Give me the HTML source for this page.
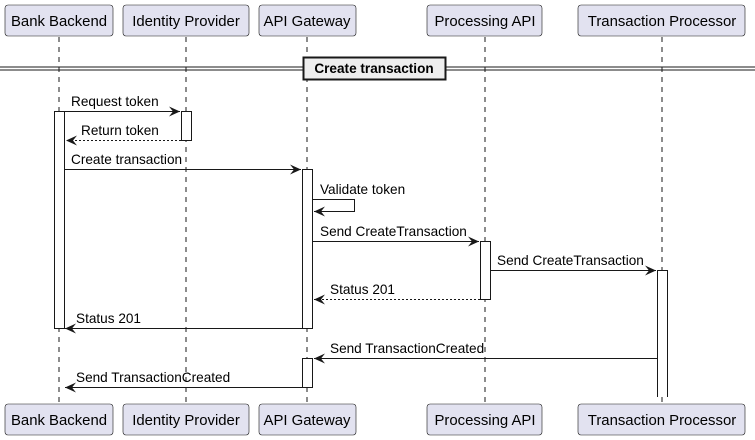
<!DOCTYPE html>
<html><head><meta charset="utf-8"><style>
html,body{margin:0;padding:0;background:#fff;}
svg{display:block;}
text{font-family:"Liberation Sans","DejaVu Sans",sans-serif;font-size:13.6px;fill:#000;}
text.p{font-size:14.9px;}
</style></head><body>
<svg width="755" height="440" viewBox="0 0 755 440" xmlns="http://www.w3.org/2000/svg">
<defs>
<marker id="ah" markerWidth="12" markerHeight="10" refX="11" refY="5" orient="auto" markerUnits="userSpaceOnUse">
<path d="M0,0 L11,5 L0,10 L4,5 Z" fill="#181818"/>
</marker>
</defs>
<g stroke="#181818" stroke-width="1" stroke-dasharray="5,5">
<line x1="59" y1="37" x2="59" y2="404"/>
<line x1="186" y1="37" x2="186" y2="404"/>
<line x1="307" y1="37" x2="307" y2="404"/>
<line x1="485" y1="37" x2="485" y2="404"/>
<line x1="662" y1="37" x2="662" y2="404"/>
</g>
<g fill="#E2E2F0" stroke="#181818" stroke-width="0.6">
<rect x="5" y="5" width="108" height="31" rx="3"/>
<rect x="123" y="5" width="126" height="31" rx="3"/>
<rect x="259" y="5" width="97" height="31" rx="3"/>
<rect x="427" y="5" width="115" height="31" rx="3"/>
<rect x="578" y="5" width="167" height="31" rx="3"/>
<rect x="5" y="404" width="108" height="31" rx="3"/>
<rect x="123" y="404" width="126" height="31" rx="3"/>
<rect x="259" y="404" width="97" height="31" rx="3"/>
<rect x="427" y="404" width="115" height="31" rx="3"/>
<rect x="578" y="404" width="167" height="31" rx="3"/>
</g>
<g text-anchor="middle">
<text class="p" x="59" y="26">Bank Backend</text>
<text class="p" x="186" y="26">Identity Provider</text>
<text class="p" x="307" y="26">API Gateway</text>
<text class="p" x="485" y="26">Processing API</text>
<text class="p" x="662" y="26">Transaction Processor</text>
<text class="p" x="59" y="425">Bank Backend</text>
<text class="p" x="186" y="425">Identity Provider</text>
<text class="p" x="307" y="425">API Gateway</text>
<text class="p" x="485" y="425">Processing API</text>
<text class="p" x="662" y="425">Transaction Processor</text>
</g>
<line x1="0" y1="67" x2="755" y2="67" stroke="#181818"/>
<line x1="0" y1="70" x2="755" y2="70" stroke="#181818"/>
<rect x="303.5" y="57.5" width="142" height="22" fill="#EEEEEE" stroke="#181818" stroke-width="2"/>
<text x="374" y="73" text-anchor="middle" style="font-weight:bold">Create transaction</text>
<g fill="#fff" stroke="#181818" stroke-width="1">
<rect x="54.5" y="111.5" width="10" height="217"/>
<rect x="181.5" y="111.5" width="10" height="29"/>
<rect x="302.5" y="169.5" width="10" height="159"/>
<rect x="480.5" y="241.5" width="10" height="58"/>
<rect x="302.5" y="358.5" width="10" height="29"/>
</g>
<rect x="657" y="270" width="11" height="127" fill="#fff"/>
<path d="M657.5,397 V270.5 H667.5 V397" fill="none" stroke="#181818"/>
<g stroke="#181818" stroke-width="1" fill="none" marker-end="url(#ah)">
<line x1="65" y1="111.5" x2="180" y2="111.5"/>
<line x1="181" y1="140.5" x2="66" y2="140.5" stroke-dasharray="2,2"/>
<line x1="65" y1="169.5" x2="301" y2="169.5"/>
<path d="M313,199.5 H354.5 V211.5 H314"/>
<line x1="313" y1="241.5" x2="479" y2="241.5"/>
<line x1="491" y1="270.5" x2="656" y2="270.5"/>
<line x1="480" y1="299.5" x2="314" y2="299.5" stroke-dasharray="2,2"/>
<line x1="302" y1="328.5" x2="65" y2="328.5"/>
<line x1="657" y1="358.5" x2="314" y2="358.5"/>
<line x1="302" y1="387.5" x2="65" y2="387.5"/>
</g>
<g>
<text x="71" y="106">Request token</text>
<text x="81" y="135">Return token</text>
<text x="71" y="164">Create transaction</text>
<text x="320" y="194">Validate token</text>
<text x="320" y="236">Send CreateTransaction</text>
<text x="497" y="265">Send CreateTransaction</text>
<text x="330" y="294">Status 201</text>
<text x="76" y="323">Status 201</text>
<text x="330" y="353">Send TransactionCreated</text>
<text x="76" y="382">Send TransactionCreated</text>
</g>
</svg>
</body></html>
